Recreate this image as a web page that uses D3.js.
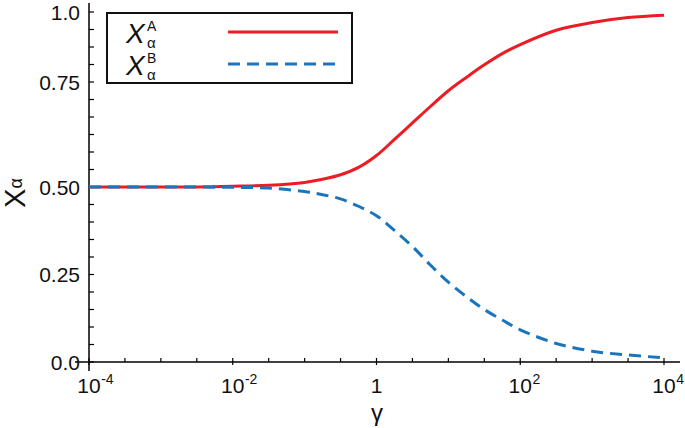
<!DOCTYPE html>
<html>
<head>
<meta charset="utf-8">
<script src="https://cdn.jsdelivr.net/npm/d3@7"></script>
<style>
  html, body { margin: 0; padding: 0; background: #fff; }
  svg { display: block; font-family: Arial, "Liberation Sans", sans-serif; }
</style>
</head>
<body>
<svg id="chart" width="685" height="428"></svg>
<script>
// ---- data ----
const gamma = [1e-4, 3.162e-4, 1e-3, 3.162e-3, 1e-2, 3.162e-2, 0.1, 0.1778, 0.3162, 0.5623, 1,
               1.778, 3.162, 5.623, 10, 17.78, 31.62, 56.23, 100, 316.2, 1000, 3162, 10000];
const seriesA = [0.5, 0.5, 0.5, 0.5, 0.502, 0.505, 0.513, 0.522, 0.535, 0.556, 0.590,
                 0.636, 0.683, 0.73, 0.775, 0.813, 0.849, 0.881, 0.907, 0.948, 0.970, 0.984, 0.991];
const seriesB = [0.5, 0.5, 0.5, 0.5, 0.499, 0.497, 0.487, 0.478, 0.466, 0.445, 0.418,
                 0.376, 0.33, 0.277, 0.228, 0.187, 0.15, 0.12, 0.092, 0.053, 0.031, 0.02, 0.012];
const xTickExps = [-4, -2, 0, 2, 4];                 // labelled decades
const xMinorExps = d3.range(-4, 4.01, 0.5);          // tick every half decade
const yTickPos = [0, 0.25, 0.5, 0.8, 1.0];           // label positions as drawn in reference
const yTickLabels = ["0.0", "0.25", "0.50", "0.75", "1.0"];
const yMinor = d3.range(0, 1.0001, 0.05);

const colorA = "#ec1c24", colorB = "#1b75bc";

const svg = d3.select("#chart");
const x = d3.scaleLog().domain([1e-4, 1e4]).range([89, 664]);
const y = d3.scaleLinear().domain([0, 1]).range([362, 12]);

// axes lines
svg.append("line").attr("x1", 89).attr("x2", 89).attr("y1", 3).attr("y2", 371)
  .attr("stroke", "#000").attr("stroke-width", 1.5);
svg.append("line").attr("x1", 75).attr("x2", 680).attr("y1", 362).attr("y2", 362)
  .attr("stroke", "#000").attr("stroke-width", 1.5);

// y ticks (inside)
svg.append("g").selectAll("line").data(yMinor).join("line")
  .attr("x1", 89).attr("x2", 94).attr("y1", d => y(d)).attr("y2", d => y(d))
  .attr("stroke", "#000").attr("stroke-width", 1.2);
svg.append("g").selectAll("text").data(yTickPos).join("text")
  .attr("x", 80).attr("y", d => y(d) + 7.5)
  .attr("text-anchor", "end").attr("font-size", 21).attr("fill", "#111")
  .text((d, i) => yTickLabels[i]);

// x ticks
svg.append("g").selectAll("line").data(xMinorExps).join("line")
  .attr("x1", d => x(Math.pow(10, d))).attr("x2", d => x(Math.pow(10, d)))
  .attr("y1", 358).attr("y2", d => (Math.abs(d % 2) < 1e-9) ? 365 : 362)
  .attr("stroke", "#000").attr("stroke-width", 1.2);

const xl = svg.append("g");
xTickExps.forEach(e => {
  const px = x(Math.pow(10, e));
  if (e === 0) {
    xl.append("text").attr("x", px).attr("y", 393).attr("text-anchor", "middle")
      .attr("font-size", 21).attr("fill", "#111").text("1");
  } else {
    const t = xl.append("text").attr("x", px - 11.7).attr("y", 393)
      .attr("fill", "#111");
    t.append("tspan").attr("font-size", 21).text("10");
    t.append("tspan").attr("font-size", 14).attr("dy", -9).attr("dx", 0.5)
      .text(e < 0 ? "-" + (-e) : String(e));
  }
});

// axis titles
svg.append("text").attr("x", 377).attr("y", 421).attr("text-anchor", "middle")
  .attr("font-size", 24).attr("fill", "#111").text("γ");

const yl = svg.append("text").attr("transform", "translate(25,193) rotate(-90)")
  .attr("text-anchor", "middle").attr("fill", "#111");
yl.append("tspan").attr("font-size", 29).text("X");
yl.append("tspan").attr("font-size", 18).attr("dy", -3).text("α");

// curves
const dataA = gamma.map((g, i) => [g, seriesA[i]]);
const dataB = gamma.map((g, i) => [g, seriesB[i]]);
const line = d3.line().x(d => x(d[0])).y(d => y(d[1])).curve(d3.curveCatmullRom.alpha(0.5));

svg.append("path").datum(dataA).attr("d", line).attr("fill", "none")
  .attr("stroke", colorA).attr("stroke-width", 3);
svg.append("path").datum(dataB).attr("d", line).attr("fill", "none")
  .attr("stroke", colorB).attr("stroke-width", 3).attr("stroke-dasharray", "12,7");

// legend
const lg = svg.append("g");
lg.append("rect").attr("x", 107).attr("y", 13).attr("width", 245).attr("height", 70)
  .attr("fill", "#fff").attr("stroke", "#111").attr("stroke-width", 2);
const entries = [
  { sup: "A", color: colorA, dash: null, yBase: 43, yLine: 32 },
  { sup: "B", color: colorB, dash: "12,7", yBase: 75, yLine: 64 }
];
entries.forEach(en => {
  lg.append("text").attr("x", 126).attr("y", en.yBase).attr("fill", "#111")
    .attr("font-size", 28).attr("font-style", "italic").text("X");
  lg.append("text").attr("x", 147).attr("y", en.yBase - 12).attr("fill", "#111")
    .attr("font-size", 14).text(en.sup);
  lg.append("text").attr("x", 147).attr("y", en.yBase + 5).attr("fill", "#111")
    .attr("font-size", 15).text("α");
  lg.append("line").attr("x1", 228).attr("x2", 338).attr("y1", en.yLine).attr("y2", en.yLine)
    .attr("stroke", en.color).attr("stroke-width", 3)
    .attr("stroke-dasharray", en.dash);
});
</script>
</body>
</html>
